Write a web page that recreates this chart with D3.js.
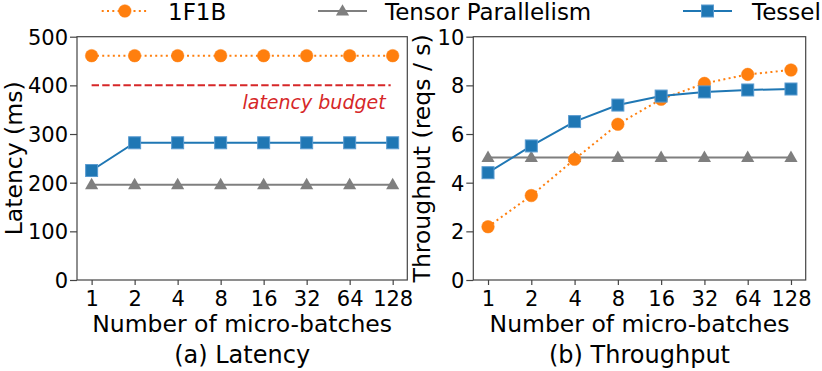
<!DOCTYPE html>
<html><head><meta charset="utf-8">
<script src="https://cdn.jsdelivr.net/npm/d3@7"></script>
<style>
html,body{margin:0;padding:0;background:#fff;}
text{font-family:"DejaVu Sans",sans-serif;fill:#000;}
</style></head>
<body>
<svg id="chart" width="822" height="371"></svg>
<script>
const categories = ["1","2","4","8","16","32","64","128"];
const latency1F1B = [461,461,461,461,461,461,461,461];
const latencyTP = [196,196,196,196,196,196,196,196];
const latencyTessel = [225,282,282,282,282,282,282,282];
const latencyBudget = 400;
const throughput1F1B = [2.19,3.47,4.96,6.40,7.43,8.08,8.45,8.63];
const throughputTP = [5.04,5.04,5.04,5.04,5.04,5.04,5.04,5.04];
const throughputTessel = [4.41,5.51,6.51,7.19,7.56,7.73,7.81,7.85];
const latencyTicks = [0,100,200,300,400,500];
const throughputTicks = [0,2,4,6,8,10];
const seriesNames = ["1F1B","Tensor Parallelism","Tessel"];

const C = {orange:"#ff7f0e", gray:"#7f7f7f", blue:"#1f77b4", red:"#d62728"};
const svg = d3.select("#chart");
const TICK_FS = 21, LABEL_FS = 23.5, TITLE_FS = 24, LEG_FS = 23;

function marker(g, type, x, y, color){
  if(type==="circle"){
    g.append("circle").attr("cx",x).attr("cy",y).attr("r",6.3).attr("fill",color)
     .attr("stroke",color).attr("stroke-width",0.8).attr("stroke-opacity",0.6);
  } else if(type==="square"){
    g.append("rect").attr("x",x-6).attr("y",y-6).attr("width",12).attr("height",12).attr("fill",color)
     .attr("stroke","#5a9bd0").attr("stroke-width",1);
  } else {
    const s = d3.symbol().type(d3.symbolTriangle).size(75);
    g.append("path").attr("d",s()).attr("transform",`translate(${x},${y+0.8})`).attr("fill",color);
  }
}

function panel(opts){
  const {left,right,top,bottom,yMax,ticks,data,ylabel,ylabelX,title,budget} = opts;
  const x = d3.scalePoint().domain(categories).range([left,right]).padding(0.34);
  const y = d3.scaleLinear().domain([0,yMax]).range([bottom,top]);
  const g = svg.append("g");
  g.append("rect").attr("x",left).attr("y",top).attr("width",right-left).attr("height",bottom-top)
    .attr("fill","none").attr("stroke","#444").attr("stroke-width",1.2);
  const ya = g.append("g").attr("transform",`translate(${left},0)`)
    .call(d3.axisLeft(y).tickValues(ticks).tickSize(7).tickPadding(2).tickFormat(d3.format("d")));
  ya.select(".domain").remove();
  ya.selectAll("line").attr("stroke","#444").attr("stroke-width",1.2);
  ya.selectAll("text").attr("font-size",TICK_FS).attr("font-family","DejaVu Sans").attr("dy","0.36em");
  const xa = g.append("g").attr("transform",`translate(0,${bottom})`)
    .call(d3.axisBottom(x).tickSize(5).tickPadding(4));
  xa.select(".domain").remove();
  xa.selectAll("line").attr("stroke","#444").attr("stroke-width",1.2);
  xa.selectAll("text").attr("font-size",TICK_FS).attr("font-family","DejaVu Sans")
    .attr("dy",null).attr("y",26);

  if(budget!==undefined){
    g.append("line").attr("x1",x(categories[0])).attr("x2",x(categories[categories.length-1])-2)
      .attr("y1",y(budget)).attr("y2",y(budget)).attr("stroke",C.red).attr("stroke-width",2)
      .attr("stroke-dasharray","7.4,3.2");
    g.append("text").attr("x",x(categories[categories.length-1])-7).attr("y",y(budget)+24)
      .attr("text-anchor","end").attr("font-size",19).attr("font-style","italic")
      .style("fill",C.red).text("latency budget");
  }
  const line = d3.line().x((d,i)=>x(categories[i])).y(d=>y(d));
  const order = [
    {vals:data[1], color:C.gray, dash:null, m:"triangle"},
    {vals:data[0], color:C.orange, dash:"2,3.3", m:"circle"},
    {vals:data[2], color:C.blue, dash:null, m:"square"}];
  order.forEach(s=>{
    g.append("path").datum(s.vals).attr("d",line).attr("fill","none").attr("stroke",s.color)
      .attr("stroke-width",2).attr("stroke-dasharray",s.dash);
    s.vals.forEach((v,i)=>marker(g,s.m,x(categories[i]),y(v),s.color));
  });
  const cx = (left+right)/2;
  g.append("text").attr("x",cx).attr("y",332).attr("text-anchor","middle").attr("font-size",LABEL_FS)
    .text("Number of micro-batches");
  g.append("text").attr("x",cx).attr("y",363).attr("text-anchor","middle").attr("font-size",TITLE_FS)
    .text(title);
  g.append("text").attr("transform",`translate(${ylabelX},${(top+bottom)/2}) rotate(-90)`)
    .attr("text-anchor","middle").attr("font-size",LABEL_FS).text(ylabel);
}

panel({left:77,right:407.3,top:36.7,bottom:280,yMax:500,ticks:latencyTicks,
  data:[latency1F1B,latencyTP,latencyTessel],ylabel:"Latency (ms)",ylabelX:22,title:"(a) Latency",budget:latencyBudget});
panel({left:473.3,right:805.7,top:36.7,bottom:280,yMax:10,ticks:throughputTicks,
  data:[throughput1F1B,throughputTP,throughputTessel],ylabel:"Throughput (reqs / s)",ylabelX:430,title:"(b) Throughput"});

const leg = svg.append("g");
const legItems = [
  {name:seriesNames[0], x1:101.7, x2:148, tx:168, color:C.orange, dash:"2,3.3", m:"circle"},
  {name:seriesNames[1], x1:318, x2:367, tx:385, color:C.gray, dash:null, m:"triangle"},
  {name:seriesNames[2], x1:683, x2:732, tx:752, color:C.blue, dash:null, m:"square"}];
legItems.forEach(it=>{
  leg.append("line").attr("x1",it.x1).attr("x2",it.x2).attr("y1",11).attr("y2",11)
    .attr("stroke",it.color).attr("stroke-width",2).attr("stroke-dasharray",it.dash);
  marker(leg,it.m,(it.x1+it.x2)/2,11,it.color);
  leg.append("text").attr("x",it.tx).attr("y",20).attr("font-size",LEG_FS).text(it.name);
});
</script>
</body></html>
